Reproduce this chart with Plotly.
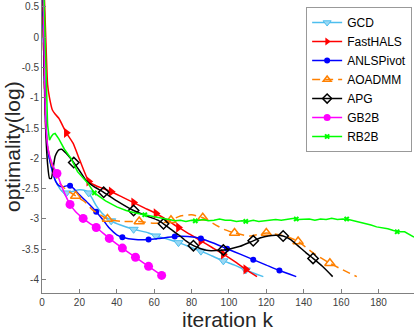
import plotly.graph_objects as go

# ---------------- data ----------------
gcd_x = [0, 1, 2, 3, 5, 7, 9.5, 11, 13, 16, 20, 23, 25, 27, 29, 32, 37, 42, 49, 57, 61, 67, 73, 79, 85, 91, 97, 103, 109, 118.4]
gcd_y = [1.2, 0.0, -1.3, -1.8, -2.15, -2.35, -2.5, -2.55, -2.57, -2.55, -2.52, -2.53, -2.57, -2.67, -2.78, -2.9, -3.03, -3.1, -3.17, -3.23, -3.28, -3.33, -3.39, -3.46, -3.53, -3.61, -3.69, -3.76, -3.84, -3.95]
gcd_mx = [13, 25, 37, 49, 61, 73, 85, 97, 109]
gcd_my = [-2.57, -2.57, -3.03, -3.17, -3.28, -3.39, -3.53, -3.69, -3.84]

hals_x = [0, 1, 2, 3, 4, 5.5, 7, 9, 13, 16.6, 20.2, 25, 28, 32, 37, 43, 49, 55, 61, 67, 73, 79, 85, 91, 97, 103, 109, 115]
hals_y = [1.5, 0.9, 0.0, -0.79, -1.0, -1.2, -1.27, -1.34, -1.58, -1.75, -2.03, -2.38, -2.44, -2.49, -2.55, -2.64, -2.73, -2.82, -2.91, -3.02, -3.14, -3.25, -3.36, -3.47, -3.58, -3.70, -3.83, -3.95]
hals_mx = [13, 25, 37, 49, 61, 73, 85, 97, 109]
hals_my = [-1.58, -2.38, -2.55, -2.73, -2.91, -3.14, -3.36, -3.58, -3.83]

anls_x = [0, 1, 2, 3, 5, 7.3, 9, 11, 13.5, 15, 17, 20, 25, 29, 33, 36, 40, 43, 50, 57, 63, 71, 78, 85, 92, 99, 106, 113, 120, 127, 136]
anls_y = [1.2, -0.3, -1.4, -1.85, -2.15, -2.38, -2.45, -2.47, -2.45, -2.45, -2.5, -2.6, -2.75, -2.88, -3.03, -3.15, -3.26, -3.30, -3.34, -3.34, -3.32, -3.29, -3.29, -3.32, -3.40, -3.49, -3.58, -3.67, -3.76, -3.85, -3.95]
anls_mx = [15, 29, 43, 57, 71, 85, 99, 113, 127]
anls_my = [-2.45, -2.88, -3.30, -3.34, -3.29, -3.32, -3.49, -3.67, -3.85]

aoadmm_x = [0, 1, 2, 3, 4, 6, 9.5, 13, 18, 23, 27, 31, 35, 43, 52, 60, 65, 69, 74, 80, 86, 93, 98, 103, 111, 120, 127, 132, 137, 145, 154, 161, 168.4]
aoadmm_y = [1.2, -0.5, -1.5, -1.81, -1.95, -2.2, -2.41, -2.52, -2.62, -2.72, -2.85, -2.93, -3.0, -3.04, -3.04, -3.07, -3.06, -3.02, -2.95, -2.93, -2.98, -3.10, -3.18, -3.23, -3.28, -3.23, -3.26, -3.30, -3.37, -3.56, -3.73, -3.84, -3.95]
aoadmm_mx = [18, 35, 52, 69, 86, 103, 120, 137, 154]
aoadmm_my = [-2.62, -3.0, -3.04, -3.02, -2.98, -3.23, -3.23, -3.37, -3.73]

apg_x = [0, 1, 2, 3, 4, 5, 6, 7, 8, 9, 10.5, 13, 15, 17, 20, 23.5, 27, 33, 40, 49, 56, 62, 65, 69, 73, 77, 81, 85, 89, 93, 97.5, 101, 106, 113, 117, 121, 125, 129, 133, 136.5, 141, 145, 150, 155.5]
apg_y = [1.5, -0.4, -1.55, -2.1, -2.33, -2.33, -2.15, -1.97, -1.9, -1.86, -1.85, -1.92, -1.99, -2.07, -2.2, -2.36, -2.45, -2.56, -2.7, -2.86, -2.95, -3.02, -3.08, -3.17, -3.26, -3.36, -3.44, -3.49, -3.52, -3.52, -3.51, -3.49, -3.45, -3.36, -3.31, -3.28, -3.27, -3.28, -3.34, -3.43, -3.55, -3.65, -3.78, -3.95]
apg_mx = [17, 33, 49, 65, 81, 97, 113, 129, 145]
apg_my = [-2.07, -2.56, -2.86, -3.08, -3.44, -3.51, -3.36, -3.28, -3.65]

gb2b_x = [0, 1, 1.5, 2, 3, 4, 5, 6, 8, 11, 15, 18, 22, 25, 29, 36, 43, 50, 57, 64]
gb2b_y = [2.0, 0.0, -0.8, -1.4, -1.8, -1.95, -2.05, -2.13, -2.25, -2.5, -2.76, -2.88, -2.99, -3.06, -3.14, -3.32, -3.48, -3.63, -3.78, -3.93]
gb2b_mx = [8, 15, 22, 29, 36, 43, 50, 57, 64]
gb2b_my = [-2.25, -2.76, -2.99, -3.14, -3.32, -3.48, -3.63, -3.78, -3.93]

rb2b_x = [0, 1, 2, 3, 4, 5, 6, 7, 9, 12, 15.5, 19, 24.5, 28, 34, 40, 45, 50, 55, 59, 62,
          65, 68, 71, 74, 77, 80, 83, 86, 89, 92, 95, 98, 101, 104, 107, 110, 113, 116, 119, 122,
          125, 128, 131, 134, 137, 140, 143, 146, 149, 152, 155, 158, 161, 164, 167, 170, 173, 176, 179, 182,
          185, 188, 191, 194, 197, 199]
rb2b_y = [2.0, 0.6, -0.4, -1.45, -1.7, -1.64, -1.6, -1.59, -1.68, -1.85, -2.0, -2.22, -2.41, -2.57, -2.7, -2.8, -2.86, -2.9, -2.93, -2.95, -2.96,
          -2.99, -3.01, -3.03, -3.02, -3.04, -3.02, -3.03, -3.01, -3.03, -3.02, -3.00, -3.02, -3.02, -3.04, -3.03, -3.04, -3.02, -3.04, -3.03, -3.03,
          -3.01, -3.02, -3.00, -2.99, -3.01, -3.01, -3.00, -3.02, -3.00, -3.01, -2.99, -3.01, -3.00, -3.01, -3.03, -3.06, -3.08, -3.10, -3.13, -3.14,
          -3.16, -3.19, -3.21, -3.21, -3.26, -3.30]
rb2b_mx = [28, 55, 82, 109, 136, 163, 190]
rb2b_my = [-2.57, -2.93, -3.03, -3.04, -3.0, -3.0, -3.21]

x_ticks = [0, 20, 40, 60, 80, 100, 120, 140, 160, 180]
y_ticks = [-4, -3.5, -3, -2.5, -2, -1.5, -1, -0.5, 0, 0.5]
y_tick_labels = ["-4", "-3.5", "-3", "-2.5", "-2", "-1.5", "-1", "-0.5", "0", "0.5"]
x_title = "iteration k"
y_title = "optimality(log)"

# ---------------- figure ----------------
series = [
    ("GCD", gcd_x, gcd_y, gcd_mx, gcd_my, "#4DBEEE", None,
     dict(symbol="triangle-down", size=8, color="#9ad8f4", line=dict(color="#4DBEEE", width=1))),
    ("FastHALS", hals_x, hals_y, hals_mx, hals_my, "#FF0000", None,
     dict(symbol="triangle-right", size=9, color="#FF0000")),
    ("ANLSPivot", anls_x, anls_y, anls_mx, anls_my, "#0000FF", None,
     dict(symbol="circle", size=6, color="#0000FF")),
    ("AOADMM", aoadmm_x, aoadmm_y, aoadmm_mx, aoadmm_my, "#FF8000", "8px,5px",
     dict(symbol="triangle-up-open", size=9, color="#FF8000", line=dict(color="#FF8000", width=1.5))),
    ("APG", apg_x, apg_y, apg_mx, apg_my, "#000000", None,
     dict(symbol="diamond-open", size=8, color="#000000", line=dict(color="#000000", width=1.5))),
    ("GB2B", gb2b_x, gb2b_y, gb2b_mx, gb2b_my, "#FF00FF", None,
     dict(symbol="circle", size=9, color="#FF00FF")),
    ("RB2B", rb2b_x, rb2b_y, rb2b_mx, rb2b_my, "#00FF00", None,
     dict(symbol="x", size=5, color="#00FF00")),
]

fig = go.Figure()
for name, lx, ly, mx, my, col, dash, mk in series:
    shape = "linear" if name == "RB2B" else "spline"
    line = dict(color=col, width=1.5, shape=shape, dash=dash if dash else "solid")
    if shape == "spline":
        line["smoothing"] = 0.5
    fig.add_trace(go.Scatter(x=lx, y=ly, mode="lines", line=line,
                             legendgroup=name, showlegend=False, hoverinfo="skip"))
    fig.add_trace(go.Scatter(x=mx, y=my, mode="markers", marker=mk,
                             legendgroup=name, showlegend=False))
    leg_mk = dict(mk)
    leg_mk["size"] = min(mk["size"], 7)
    fig.add_trace(go.Scatter(x=[None], y=[None], mode="lines+markers", name=name,
                             line=dict(color=col, width=1.5, dash=dash if dash else "solid"),
                             marker=leg_mk, legendgroup=name, showlegend=True))

axis_col = "#808080"
fig.update_layout(
    width=415, height=330,
    margin=dict(l=42, r=1, t=0, b=37, autoexpand=False),
    plot_bgcolor="white", paper_bgcolor="white",
    font=dict(family="Liberation Sans, Arial, sans-serif", color="#262626"),
    showlegend=True,
    legend=dict(x=0.995, xanchor="right", y=0.976, yanchor="top",
                bgcolor="white", bordercolor="#999999", borderwidth=1,
                font=dict(size=12, color="#000000"), tracegroupgap=0, itemwidth=30),
    xaxis=dict(range=[0, 199], tickvals=x_ticks, showline=True, linecolor=axis_col, linewidth=1,
               ticks="inside", ticklen=4, tickcolor=axis_col, showgrid=False, zeroline=False,
               automargin=False, tickfont=dict(size=10, color="#404040")),
    yaxis=dict(range=[-4.22, 0.61], tickvals=y_ticks, ticktext=y_tick_labels, showline=True,
               linecolor=axis_col, linewidth=1, ticks="inside", ticklen=4, tickcolor=axis_col,
               showgrid=False, zeroline=False, automargin=False,
               tickfont=dict(size=10, color="#404040")),
    annotations=[
        dict(text=x_title, xref="paper", yref="paper", x=0.5, y=-0.092, xanchor="center",
             yanchor="middle", showarrow=False, font=dict(size=21, color="#262626")),
        dict(text=y_title, xref="paper", yref="paper", x=-0.0793, y=0.5, xanchor="center",
             yanchor="middle", textangle=-90, showarrow=False, font=dict(size=21, color="#262626")),
    ],
)

fig.write_html("out.html", config={"displayModeBar": False},
               post_script="document.body.style.margin='0';document.body.style.overflow='hidden';")
